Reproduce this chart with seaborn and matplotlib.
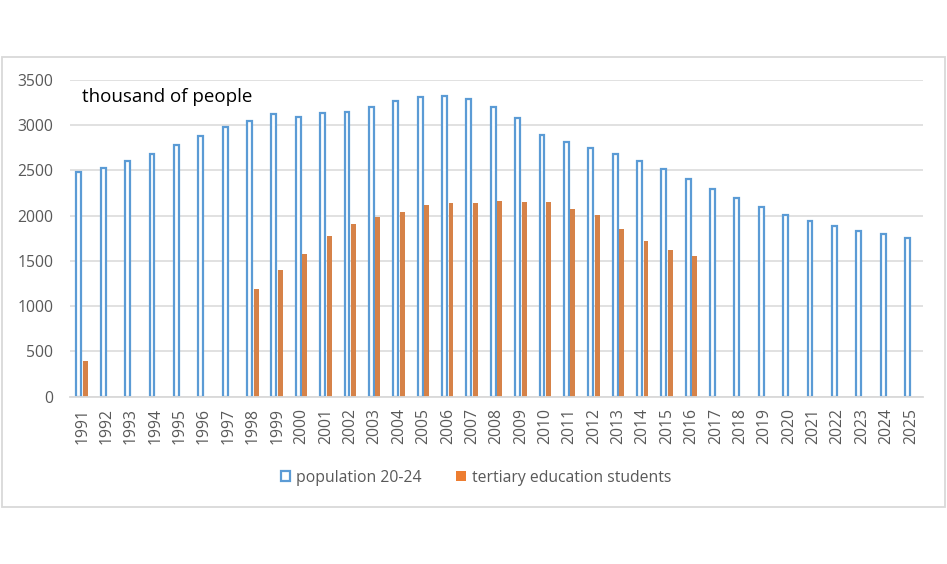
import pandas as pd
import numpy as np
import matplotlib
matplotlib.use('Agg')
import matplotlib.pyplot as plt
from matplotlib.patches import Patch, Rectangle
import seaborn as sns

years = [str(y) for y in range(1991, 2026)]
population = [2480, 2524, 2608, 2679, 2782, 2881, 2984, 3047, 3128, 3091,
              3139, 3150, 3205, 3272, 3316, 3327, 3294, 3205, 3084, 2896,
              2818, 2752, 2682, 2601, 2520, 2410, 2299, 2199, 2100, 2012,
              1945, 1890, 1835, 1795, 1754]
students = [395, np.nan, np.nan, np.nan, np.nan, np.nan, np.nan, 1190, 1400, 1577,
            1776, 1909, 1986, 2041, 2118, 2141, 2141, 2163, 2152, 2152,
            2075, 2009, 1851, 1718, 1621, 1555] + [np.nan] * 9
series_names = ['population 20-24', 'tertiary education students']

blue = '#5B9BD5'
orange = '#ED7D31'
grey = '#D9D9D9'
text_grey = '#595959'

df = pd.DataFrame({
    'year': years * 2,
    'value': population + students,
    'series': [series_names[0]] * len(years) + [series_names[1]] * len(years),
}).dropna()

sns.set_style('white')
plt.rcParams['font.family'] = ['Open Sans', 'DejaVu Sans']

fig = plt.figure(figsize=(9.47, 5.64), dpi=100)
fig.patches.append(Rectangle((2 / 947, 1 - 507 / 564), 943 / 947, 450 / 564,
                             transform=fig.transFigure, fill=False,
                             edgecolor=grey, linewidth=1.3))

ax = fig.add_axes([70 / 947, 1 - 396.7 / 564, 853 / 947, 316.7 / 564])
sns.barplot(data=df, x='year', y='value', hue='series', order=years,
            hue_order=series_names, palette=[blue, orange], width=0.54,
            errorbar=None, legend=False, ax=ax)

for bar in ax.containers[0]:
    c = bar.get_x() + bar.get_width() / 2
    bar.set_width(0.2)
    bar.set_x(c - 0.1)
    bar.set_facecolor('white')
    bar.set_edgecolor(blue)
    bar.set_linewidth(1.6)
for bar in ax.containers[1]:
    c = bar.get_x() + bar.get_width() / 2
    bar.set_width(0.2)
    bar.set_x(c - 0.1)
    bar.set_edgecolor('none')

ax.set_xlim(-0.5, len(years) - 0.5)
ax.set_ylim(0, 3500)
ax.set_yticks(range(0, 3501, 500))
ax.set_xlabel('')
ax.set_ylabel('')
ax.yaxis.grid(True, color=grey, linewidth=1.1)
ax.set_axisbelow(True)
for side in ['top', 'right', 'left']:
    ax.spines[side].set_visible(False)
ax.spines['bottom'].set_color(grey)
ax.spines['bottom'].set_linewidth(1.3)
ax.tick_params(axis='both', length=0, labelsize=11.3, labelcolor=text_grey)
ax.tick_params(axis='y', pad=12)
ax.tick_params(axis='x', pad=8, rotation=90)

fig.text(82 / 947, 1 - 97 / 564, 'thousand of people', fontsize=13.5,
         color='black', va='center', ha='left')

handles = [Patch(facecolor='white', edgecolor=blue, linewidth=1.6),
           Patch(facecolor=orange, edgecolor='none')]
fig.legend(handles, series_names, loc='center', bbox_to_anchor=(476 / 947, 1 - 478 / 564),
           ncol=2, frameon=False, fontsize=11.3, labelcolor=text_grey,
           handlelength=0.6, handleheight=0.6, handletextpad=0.4, columnspacing=2.2)

fig.savefig('out.png', dpi=100)
